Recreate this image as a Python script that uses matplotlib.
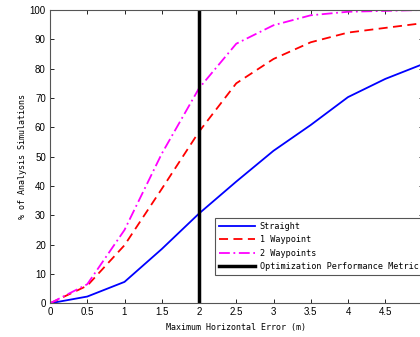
import matplotlib
matplotlib.use("Agg")
import matplotlib.pyplot as plt

x_err = [0, 0.5, 1, 1.5, 2, 2.5, 3, 3.5, 4, 4.5, 5]
straight = [0, 2.3, 7.3, 18.5, 30.6, 41.5, 52, 60.8, 70.3, 76.5, 81.5]
one_wp = [0, 6, 19.8, 39, 58.5, 75, 83.3, 89, 92.3, 93.9, 95.5]
two_wp = [0, 6.5, 25, 51, 73.3, 88.5, 94.8, 98.2, 99.4, 99.7, 100]
metric_x = 2

xticks = [0, 0.5, 1, 1.5, 2, 2.5, 3, 3.5, 4, 4.5, 5]
xtick_labels = ["0", "0.5", "1", "1.5", "2", "2.5", "3", "3.5", "4", "4.5", "5"]
yticks = [0, 10, 20, 30, 40, 50, 60, 70, 80, 90, 100]

W, H = 420, 337
fig = plt.figure(figsize=(W / 100, H / 100), dpi=100)
left, right, top, bottom = 50, 422.5, 10, 303.3
ax = fig.add_axes([left / W, (H - bottom) / H, (right - left) / W, (bottom - top) / H])

mono = "DejaVu Sans Mono"
ax.plot(x_err, straight, color="#0000ff", lw=1.3, label="Straight")
ax.plot(x_err, one_wp, color="#ff0000", lw=1.3, ls=(0, (5, 3)), label="1 Waypoint")
ax.plot(x_err, two_wp, color="#ff00ff", lw=1.3, ls=(0, (6, 2, 1, 2)), label="2 Waypoints")
ax.axvline(metric_x, color="black", lw=2.5, label="Optimization Performance Metric")

ax.set_xlim(0, 5)
ax.set_ylim(0, 100)
ax.set_xticks(xticks)
ax.set_xticklabels(xtick_labels)
ax.set_yticks(yticks)
ax.tick_params(direction="in", top=True, right=True, length=3, width=0.6,
               labelsize=7, pad=3)
for lab in ax.get_xticklabels() + ax.get_yticklabels():
    lab.set_family("Liberation Sans")
for s in ax.spines.values():
    s.set_linewidth(0.8)
    s.set_color("#555555")

ax.set_xlabel("Maximum Horizontal Error (m)", family=mono, fontsize=6, labelpad=4)
ax.set_ylabel("% of Analysis Simulations", family=mono, fontsize=6, labelpad=2)

leg = ax.legend(loc="lower right", bbox_to_anchor=(1.0, 0.097), prop={"family": mono, "size": 6.1},
                frameon=True, fancybox=False, framealpha=1, edgecolor="#555555",
                handlelength=4.3, handletextpad=0.55, borderpad=0.45, labelspacing=0.53,
                borderaxespad=0)
leg.get_frame().set_linewidth(0.8)

fig.savefig("out.png", dpi=100)
